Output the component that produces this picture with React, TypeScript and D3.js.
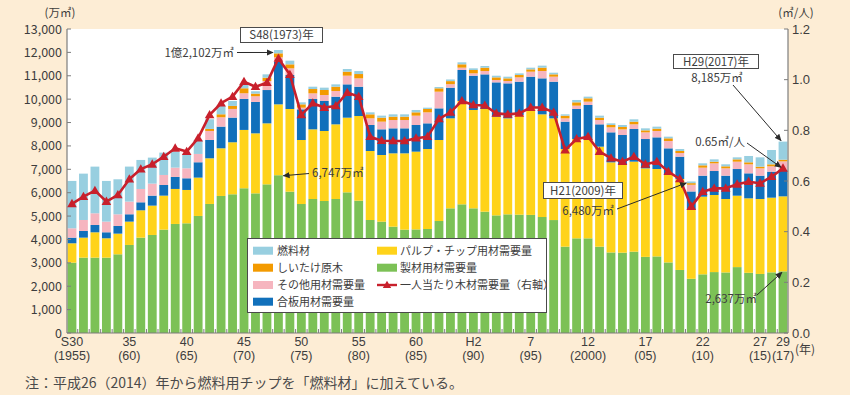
import React from 'react';
import * as d3 from 'd3';

// ---------- data (万㎥, ㎥/人) ----------
const years = [
  1955, 1956, 1957, 1958, 1959, 1960, 1961, 1962, 1963, 1964, 1965, 1966, 1967, 1968, 1969, 1970,
  1971, 1972, 1973, 1974, 1975, 1976, 1977, 1978, 1979, 1980, 1981, 1982, 1983, 1984, 1985, 1986,
  1987, 1988, 1989, 1990, 1991, 1992, 1993, 1994, 1995, 1996, 1997, 1998, 1999, 2000, 2001, 2002,
  2003, 2004, 2005, 2006, 2007, 2008, 2009, 2010, 2011, 2012, 2013, 2014, 2015, 2016, 2017,
];
// 製材用材需要量
const sawnwood = [
  3009, 3223, 3223, 3223, 3365, 3765, 4078, 4192, 4420, 4663, 4691, 5005, 5518, 5860, 5932, 6189,
  5972, 6357, 6747, 6044, 5516, 5730, 5645, 5730, 6015, 5659, 4832, 4761, 4547, 4419, 4430, 4447,
  4789, 5331, 5502, 5331, 5188, 5030, 5074, 5060, 5050, 4960, 4830, 3692, 4048, 4048, 3692, 3445,
  3435, 3478, 3255, 3275, 3018, 2696, 2318, 2509, 2605, 2590, 2818, 2575, 2525, 2594, 2637,
];
// パルプ・チップ用材需要量
const pulpChip = [
  827, 855, 1083, 827, 884, 998, 1169, 1255, 1454, 1497, 1426, 1640, 1953, 2039, 2224, 2495,
  2566, 2608, 3031, 3535, 2737, 2979, 2993, 3193, 3193, 3620, 2951, 2851, 3136, 3264, 3325, 3421,
  3464, 3849, 4419, 4205, 4390, 4220, 4105, 4262, 4557, 4391, 4349, 4176, 4248, 4205, 4276, 3853,
  3749, 3849, 3786, 3738, 3739, 3889, 2951, 3321, 3296, 3140, 3054, 3184, 3205, 3193, 3207,
];
// 合板用材需要量
const plywood = [
  242, 285, 314, 257, 328, 314, 342, 428, 456, 513, 499, 656, 784, 927, 1055, 1326,
  1343, 1425, 1825, 1454, 1311, 1297, 1283, 1183, 1425, 1254, 1112, 1098, 1069, 1069, 1140, 1098,
  1354, 1311, 1326, 1468, 1482, 1468, 1497, 1425, 1354, 1539, 1568, 1169, 1283, 1497, 955, 1283,
  1283, 1397, 1254, 1354, 1140, 955, 784, 898, 1026, 998, 1140, 1069, 998, 1112, 1140,
];
// その他用材需要量
const otherUse = [
  400, 470, 499, 456, 499, 542, 570, 513, 428, 399, 428, 356, 385, 399, 371, 242,
  242, 385, 185, 285, 71, 242, 257, 242, 371, 356, 285, 328, 356, 356, 399, 470,
  713, 150, 100, 100, 143, 100, 100, 185, 214, 314, 214, 143, 143, 143, 185, 214,
  242, 200, 285, 271, 314, 157, 285, 342, 328, 314, 314, 385, 314, 228, 356,
];
// しいたけ原木
const shiitake = [
  0, 0, 0, 0, 0, 0, 0, 0, 0, 0, 0, 0, 86, 128, 128, 214,
  114, 143, 171, 171, 143, 185, 214, 185, 171, 185, 171, 171, 143, 143, 143, 143,
  143, 130, 143, 143, 143, 114, 114, 100, 100, 143, 100, 114, 143, 143, 100, 100,
  100, 114, 86, 100, 114, 86, 71, 100, 71, 86, 100, 86, 71, 86, 71,
];
// 燃料材
const fuelwood = [
  2025, 1982, 1996, 1740, 1497, 1497, 1241, 1112, 955, 684, 599, 599, 413, 371, 214, 143,
  100, 143, 143, 157, 86, 100, 100, 100, 114, 128, 86, 86, 100, 100, 100, 57,
  57, 71, 86, 71, 71, 71, 71, 71, 71, 86, 71, 57, 100, 71, 86, 71,
  86, 100, 86, 86, 71, 86, 71, 86, 100, 86, 86, 271, 399, 613, 774,
];
// 一人当たり木材需要量（右軸）
const perCapita = [
  0.51, 0.538, 0.562, 0.519, 0.545, 0.607, 0.647, 0.666, 0.696, 0.729, 0.716, 0.769, 0.861, 0.907, 0.933, 0.992,
  0.972, 0.988, 1.084, 1.02, 0.861, 0.907, 0.89, 0.896, 0.949, 0.933, 0.775, 0.759, 0.758, 0.758, 0.769, 0.775,
  0.845, 0.871, 0.916, 0.9, 0.898, 0.867, 0.863, 0.867, 0.89, 0.89, 0.871, 0.722, 0.766, 0.775, 0.716, 0.69,
  0.676, 0.696, 0.666, 0.676, 0.637, 0.608, 0.499, 0.558, 0.571, 0.571, 0.587, 0.597, 0.591, 0.617, 0.65,
];

const leftTicks = [0, 1000, 2000, 3000, 4000, 5000, 6000, 7000, 8000, 9000, 10000, 11000, 12000, 13000];
const rightTicks = [0, 0.2, 0.4, 0.6, 0.8, 1.0, 1.2];
const xTickYears = [1955, 1960, 1965, 1970, 1975, 1980, 1985, 1990, 1995, 2000, 2005, 2010, 2015, 2017];
const xTickLine1 = ['S30', '35', '40', '45', '50', '55', '60', 'H2', '7', '12', '17', '22', '27', '29'];
const xTickLine2 = ['(1955)', '(60)', '(65)', '(70)', '(75)', '(80)', '(85)', '(90)', '(95)', '(2000)', '(05)', '(10)', '(15)', '(17)'];

const seriesKeys = ['sawn', 'pulp', 'plywood', 'other', 'shiitake', 'fuel'];
const seriesNames: Record<string, string> = {
  fuel: '燃料材',
  shiitake: 'しいたけ原木',
  other: 'その他用材需要量',
  plywood: '合板用材需要量',
  pulp: 'パルプ・チップ用材需要量',
  sawn: '製材用材需要量',
};
const seriesColors: Record<string, string> = {
  sawn: '#7cc156',
  pulp: '#ffd31a',
  plywood: '#1170bb',
  other: '#f6b5bf',
  shiitake: '#f39a00',
  fuel: '#98cfe0',
};
const lineName = '一人当たり木材需要量（右軸）';

// ---------- layout ----------
const W = 850;
const H = 395;
const left = 67;
const right = 788;
const top = 29;
const bottom = 333;
const FONT = "'Noto Sans CJK JP', 'Noto Sans', sans-serif";
const NUMFONT = "'Liberation Sans', 'Noto Sans CJK JP', sans-serif";
const BG = '#fdedd5';
const AXIS = '#7d7d7d';
const TEXT = '#3d3d3d';
const RED = '#c8202c';

export default function App() {
  const rows = years.map((yr, i) => ({
    year: yr,
    sawn: sawnwood[i],
    pulp: pulpChip[i],
    plywood: plywood[i],
    other: otherUse[i],
    shiitake: shiitake[i],
    fuel: fuelwood[i],
  }));
  const stacked = d3.stack<any>().keys(seriesKeys)(rows);

  const x = d3.scaleBand<number>().domain(years).range([left, right]).paddingInner(0.23).paddingOuter(0.05);
  const yL = d3.scaleLinear().domain([0, 13000]).range([bottom, top]);
  const yR = d3.scaleLinear().domain([0, 1.2]).range([bottom, top]);
  const bw = x.bandwidth();
  const cx = (yr: number) => (x(yr) as number) + bw / 2;
  const gap = x.step() - bw;

  const lineGen = d3
    .line<number>()
    .x((_, i) => cx(years[i]))
    .y((d) => yR(d));

  const tri = (px: number, py: number, s: number) =>
    `M${px},${py - s * 0.62} L${px + s * 0.6},${py + s * 0.42} L${px - s * 0.6},${py + s * 0.42} Z`;

  const total = (i: number) => stacked[stacked.length - 1][i][1];
  const idx = (yr: number) => years.indexOf(yr);

  const i73 = idx(1973);
  const i09 = idx(2009);
  const i17 = idx(2017);

  const legendCol1 = ['fuel', 'shiitake', 'other', 'plywood'];
  const legendCol2 = ['pulp', 'sawn'];
  const legRowY = [250.7, 267.7, 285, 301.7];

  const fmt = d3.format(',');

  return (
    <svg
      width={W}
      height={H}
      style={{ position: 'absolute', left: 0, top: 0, display: 'block' }}
      fontFamily={FONT}
    >
      <defs>
        <marker id="arr" viewBox="0 0 10 10" refX="9" refY="5" markerWidth="7" markerHeight="7" orient="auto-start-reverse" markerUnits="userSpaceOnUse">
          <path d="M0,0.5 L10,5 L0,9.5 Z" fill="#2b2b2b" />
        </marker>
      </defs>
      <rect x={0} y={0} width={W} height={H} fill={BG} />
      <rect x={left} y={top} width={right - left} height={bottom - top} fill="#ffffff" />

      {/* bars */}
      {stacked.map((s) => (
        <g key={s.key} fill={seriesColors[s.key]}>
          {s.map((d, i) =>
            d[1] - d[0] > 0 ? (
              <rect
                key={i}
                x={x(years[i])}
                y={yL(d[1])}
                width={bw}
                height={yL(d[0]) - yL(d[1])}
              />
            ) : null
          )}
        </g>
      ))}

      {/* small ticks between bars */}
      {years.slice(1).map((yr) => {
        const tx = (x(yr) as number) - gap / 2;
        return <line key={yr} x1={tx} x2={tx} y1={bottom} y2={bottom - 4} stroke={AXIS} strokeWidth={1} />;
      })}

      {/* axes */}
      <line x1={left} x2={left} y1={top} y2={bottom} stroke={AXIS} strokeWidth={1.2} />
      <line x1={right} x2={right} y1={top} y2={bottom} stroke={AXIS} strokeWidth={1.2} />
      <line x1={left} x2={right} y1={bottom} y2={bottom} stroke={AXIS} strokeWidth={1.2} />

      {leftTicks.map((t) => (
        <g key={t}>
          <line x1={left} x2={left + 4} y1={yL(t)} y2={yL(t)} stroke={AXIS} strokeWidth={1} />
          <text x={62} y={yL(t)} dy="0.36em" textAnchor="end" fontSize={12.5} fill={TEXT}>
            {fmt(t)}
          </text>
        </g>
      ))}
      {rightTicks.map((t) => (
        <g key={t}>
          <line x1={right - 4} x2={right} y1={yR(t)} y2={yR(t)} stroke={AXIS} strokeWidth={1} />
          <text x={792} y={yR(t)} dy="0.35em" textAnchor="start" fontSize={13} fontFamily={NUMFONT} fill={TEXT}>
            {t.toFixed(1)}
          </text>
        </g>
      ))}
      <text x={60} y={17} textAnchor="middle" fontSize={11.5} fill={TEXT}>(万㎥)</text>
      <text x={796} y={17} textAnchor="middle" fontSize={11.5} fill={TEXT}>(㎥/人)</text>

      {xTickYears.map((yr, k) => (
        <g key={yr} fontFamily={NUMFONT} fontSize={12.5} fill={TEXT} textAnchor="middle">
          <text x={cx(yr)} y={342} dy="0.35em">{xTickLine1[k]}</text>
          <text x={cx(yr)} y={356} dy="0.35em">{xTickLine2[k]}</text>
        </g>
      ))}
      <text x={805} y={350} dy="0.36em" textAnchor="middle" fontSize={12} fill={TEXT}>(年)</text>

      {/* per-capita line */}
      <path d={lineGen(perCapita) || ''} fill="none" stroke={RED} strokeWidth={2.6} strokeLinejoin="round" />
      {perCapita.map((v, i) => (
        <path key={i} d={tri(cx(years[i]), yR(v), 8)} fill={RED} />
      ))}

      {/* legend */}
      <rect x={247.5} y={238.5} width={299} height={74} fill="#ffffff" stroke="#4a4a4a" strokeWidth={1} />
      {legendCol1.map((k, r) => (
        <g key={k}>
          <rect x={253} y={legRowY[r] - 4} width={20} height={8} fill={seriesColors[k]} />
          <text x={277} y={legRowY[r]} dy="0.36em" fontSize={11} fill={TEXT}>{seriesNames[k]}</text>
        </g>
      ))}
      {legendCol2.map((k, r) => (
        <g key={k}>
          <rect x={377} y={legRowY[r] - 4} width={20} height={8} fill={seriesColors[k]} />
          <text x={400} y={legRowY[r]} dy="0.36em" fontSize={11} fill={TEXT}>{seriesNames[k]}</text>
        </g>
      ))}
      <line x1={377} x2={397} y1={legRowY[2]} y2={legRowY[2]} stroke={RED} strokeWidth={2.4} />
      <path d={tri(387, legRowY[2], 7)} fill={RED} />
      <text x={400} y={legRowY[2]} dy="0.36em" fontSize={11} fill={TEXT}>{lineName}</text>

      {/* annotations: 1973 */}
      <rect x={240.5} y={27.5} width={82} height={15} fill="#ffffff" stroke="#4a4a4a" strokeWidth={1} />
      <text x={281.5} y={35} dy="0.36em" textAnchor="middle" fontSize={11.5} fill={TEXT}>S48(1973)年</text>
      <text x={234} y={53} dy="0.36em" textAnchor="end" fontSize={11.5} fill={TEXT}>1億2,102万㎥</text>
      <line x1={237} y1={52.5} x2={(x(1973) as number) - 1} y2={yL(total(i73)) + 2.5} stroke="#2b2b2b" strokeWidth={1} markerEnd="url(#arr)" />
      <text x={312} y={173} dy="0.36em" textAnchor="start" fontSize={11.5} fill={TEXT}>6,747万㎥</text>
      <line x1={309} y1={173.5} x2={(x(1973) as number) + bw + 0.5} y2={yL(sawnwood[i73]) + 0.5} stroke="#2b2b2b" strokeWidth={1} markerEnd="url(#arr)" />

      {/* 2009 */}
      <rect x={543.5} y={182.5} width={79} height={16} fill="#ffffff" stroke="#4a4a4a" strokeWidth={1} />
      <text x={583} y={190.5} dy="0.36em" textAnchor="middle" fontSize={11.5} fill={TEXT}>H21(2009)年</text>
      <text x={614} y={211} dy="0.36em" textAnchor="end" fontSize={11.5} fill={TEXT}>6,480万㎥</text>
      <line x1={617} y1={209} x2={(x(2009) as number) - 0.5} y2={yL(total(i09)) + 1.5} stroke="#2b2b2b" strokeWidth={1} markerEnd="url(#arr)" />

      {/* 2017 */}
      <rect x={673.5} y={54.5} width={85} height={14} fill="#ffffff" stroke="#4a4a4a" strokeWidth={1} />
      <text x={716} y={61.5} dy="0.36em" textAnchor="middle" fontSize={11.5} fill={TEXT}>H29(2017)年</text>
      <text x={717} y={78} dy="0.36em" textAnchor="middle" fontSize={11.5} fill={TEXT}>8,185万㎥</text>
      <line x1={733} y1={85} x2={cx(2017) - 2} y2={yL(total(i17)) - 1} stroke="#2b2b2b" strokeWidth={1} markerEnd="url(#arr)" />
      <text x={745} y={142} dy="0.36em" textAnchor="end" fontSize={11.5} fill={TEXT}>0.65㎥/人</text>
      <line x1={747} y1={143} x2={cx(2017) - 2} y2={yR(perCapita[i17]) - 1} stroke="#2b2b2b" strokeWidth={1} markerEnd="url(#arr)" />
      <text x={757} y={299} dy="0.36em" textAnchor="end" fontSize={11.5} fill={TEXT}>2,637万㎥</text>
      <line x1={757} y1={295} x2={cx(2017) - 1} y2={yL(sawnwood[i17]) + 1} stroke="#2b2b2b" strokeWidth={1} markerEnd="url(#arr)" />

      {/* footnote */}
      <text x={25} y={383} dy="0.36em" fontSize={14} fill="#4a4a4a">注：平成26（2014）年から燃料用チップを「燃料材」に加えている。</text>
    </svg>
  );
}
